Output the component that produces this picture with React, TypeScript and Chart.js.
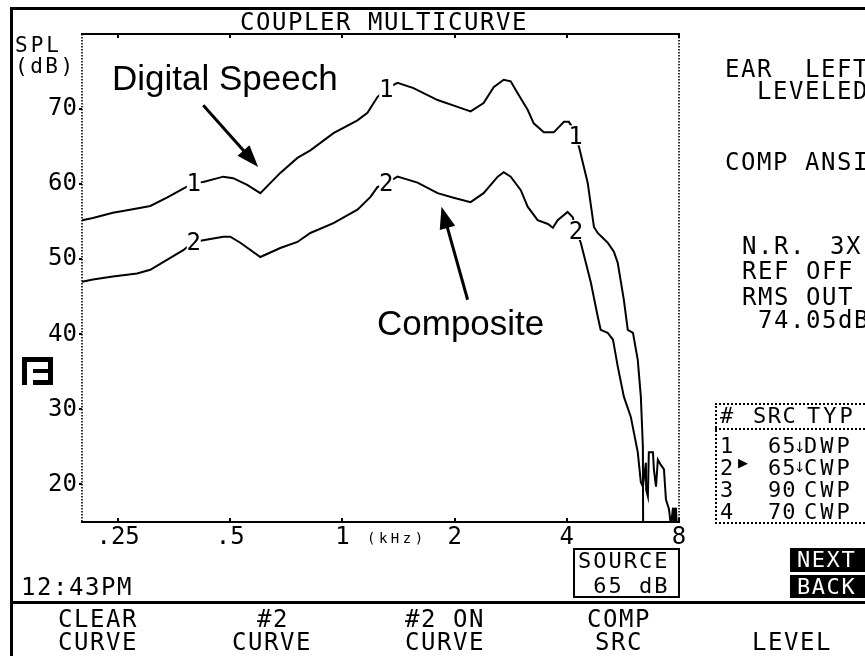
import React, { useEffect, useRef } from "react";
import { Chart, registerables } from "chart.js";

Chart.register(...registerables);

// ---- data (frequency in kHz, level in dB SPL) ----
const digitalFreq = [0.2, 0.214, 0.242, 0.269, 0.305, 0.338, 0.374, 0.4, 0.423, 0.479, 0.509, 0.555, 0.602, 0.681, 0.757, 0.82, 0.946, 1.097, 1.167, 1.241, 1.32, 1.405, 1.551, 1.8, 2.036, 2.207, 2.392, 2.545, 2.708, 2.828, 2.952, 3.14, 3.26, 3.47, 3.69, 3.93, 4.05, 4.15, 4.22, 4.31, 4.55, 4.73, 4.84, 5.15, 5.35, 5.48, 5.69, 5.83, 6.02, 6.2, 6.32, 6.4, 6.41];
const digitalDb = [55.2, 55.5, 56.2, 56.6, 57.1, 58.2, 59.4, 60.2, 60.3, 61.0, 60.8, 59.9, 58.8, 61.5, 63.5, 64.5, 66.8, 68.5, 69.5, 71.6, 72.8, 73.5, 72.8, 71.2, 70.3, 69.7, 70.8, 72.9, 73.9, 73.7, 72.1, 69.9, 68.1, 66.9, 66.9, 68.3, 68.3, 67.5, 66.5, 65.0, 60.2, 54.3, 53.5, 52.2, 51.0, 49.5, 44.6, 40.6, 40.2, 36.6, 31.7, 25.0, 14.0];

const compositeFreq = [0.2, 0.214, 0.242, 0.281, 0.305, 0.338, 0.374, 0.398, 0.442, 0.479, 0.5, 0.532, 0.602, 0.681, 0.757, 0.82, 0.946, 1.097, 1.189, 1.241, 1.32, 1.405, 1.59, 1.8, 1.987, 2.207, 2.392, 2.61, 2.708, 2.828, 3.01, 3.14, 3.34, 3.56, 3.67, 3.78, 4.02, 4.15, 4.23, 4.36, 4.64, 4.84, 4.93, 5.15, 5.32, 5.48, 5.69, 5.94, 6.2, 6.32, 6.4, 6.52, 6.53, 6.6, 6.64, 6.81, 6.85, 6.94, 7.02, 7.15, 7.29, 7.38, 7.52, 7.61, 7.71, 7.75, 7.85, 7.89];
const compositeDb = [47.0, 47.3, 47.7, 48.1, 48.6, 49.9, 51.2, 52.3, 52.7, 53.0, 53.0, 52.2, 50.3, 51.5, 52.3, 53.5, 54.8, 56.6, 58.3, 59.6, 60.2, 61.0, 60.2, 58.8, 58.2, 57.6, 58.8, 61.0, 61.6, 61.0, 59.2, 57.0, 55.2, 54.7, 54.2, 55.2, 56.3, 55.6, 53.9, 52.2, 46.9, 42.4, 40.6, 40.2, 39.3, 35.7, 31.7, 29.0, 24.3, 20.3, 19.7, 22.9, 19.3, 18.4, 24.3, 24.3, 22.0, 19.7, 23.3, 22.6, 22.0, 18.0, 16.7, 14.5, 16.9, 14.5, 16.9, 14.5];

// curve number markers
const digitalLabelFreq = [0.399, 1.31, 4.22];
const digitalLabelDb = [60.2, 72.8, 66.5];
const compositeLabelFreq = [0.399, 1.31, 4.23];
const compositeLabelDb = [52.4, 60.2, 53.9];

// annotation arrows (tail -> tip), in data units
const arrowTailFreq = [0.423, 2.167];
const arrowTailDb = [70.5, 44.6];
const arrowTipFreq = [0.594, 1.844];
const arrowTipDb = [62.3, 57.0];

// axes
const xTickValues = [0.25, 0.5, 1, 2, 4, 8];
const xTickLabels = [".25", ".5", "1", "2", "4", "8"];
const yTickValues = [20, 30, 40, 50, 60, 70];
const yTickLabels = ["20", "30", "40", "50", "60", "70"];

const LCD_FONT = '"DejaVu Sans Mono", monospace';

const framePlugin = {
  id: "frame",
  beforeDatasetsDraw(chart: any) {
    const { ctx, chartArea, scales } = chart;
    const { left, right, top, bottom } = chartArea;
    ctx.save();
    ctx.strokeStyle = "#000";
    ctx.lineWidth = 2;
    ctx.beginPath();
    ctx.moveTo(left - 1, top);
    ctx.lineTo(right + 1, top);
    ctx.moveTo(left - 1, bottom);
    ctx.lineTo(right + 1, bottom);
    ctx.stroke();
    ctx.beginPath();
    xTickValues.forEach((v) => {
      const px = Math.round(scales.x.getPixelForValue(v));
      ctx.moveTo(px, top);
      ctx.lineTo(px, top + 4);
      ctx.moveTo(px, bottom);
      ctx.lineTo(px, bottom - 4);
    });
    ctx.stroke();
    ctx.beginPath();
    yTickValues.forEach((v) => {
      const py = Math.round(scales.y.getPixelForValue(v));
      ctx.moveTo(left - 3, py);
      ctx.lineTo(left, py);
    });
    ctx.stroke();
    ctx.setLineDash([1.5, 1.5]);
    ctx.lineWidth = 1.6;
    ctx.beginPath();
    ctx.moveTo(left, top);
    ctx.lineTo(left, bottom);
    ctx.moveTo(right, top);
    ctx.lineTo(right, bottom);
    ctx.stroke();
    ctx.restore();
  },
};

const markerPlugin = {
  id: "markers",
  afterDatasetsDraw(chart: any) {
    const { ctx, scales } = chart;
    const { x, y } = scales;
    ctx.save();
    ctx.font = `24px ${LCD_FONT}`;
    ctx.textAlign = "center";
    ctx.textBaseline = "alphabetic";
    const draw = (fs: number[], ds: number[], txt: string) => {
      fs.forEach((f, i) => {
        const px = x.getPixelForValue(f);
        const py = y.getPixelForValue(ds[i]);
        ctx.fillStyle = "#fff";
        ctx.fillRect(px - 7, py - 10, 14, 20);
        ctx.fillStyle = "#000";
        ctx.fillText(txt, px, py + 8.7);
      });
    };
    draw(digitalLabelFreq, digitalLabelDb, "1");
    draw(compositeLabelFreq, compositeLabelDb, "2");

    ctx.strokeStyle = "#000";
    ctx.fillStyle = "#000";
    ctx.lineWidth = 3;
    arrowTipFreq.forEach((_, i) => {
      const x0 = x.getPixelForValue(arrowTailFreq[i]);
      const y0 = y.getPixelForValue(arrowTailDb[i]);
      const x1 = x.getPixelForValue(arrowTipFreq[i]);
      const y1 = y.getPixelForValue(arrowTipDb[i]);
      const len = Math.hypot(x1 - x0, y1 - y0);
      const ux = (x1 - x0) / len;
      const uy = (y1 - y0) / len;
      const hl = 22;
      const hw = 8;
      const bx = x1 - ux * hl;
      const by = y1 - uy * hl;
      ctx.beginPath();
      ctx.moveTo(x0, y0);
      ctx.lineTo(bx + ux * 2, by + uy * 2);
      ctx.stroke();
      ctx.beginPath();
      ctx.moveTo(x1, y1);
      ctx.lineTo(bx - uy * hw, by + ux * hw);
      ctx.lineTo(bx + uy * hw, by - ux * hw);
      ctx.closePath();
      ctx.fill();
    });
    ctx.restore();
  },
};

function LCD({ x, y, text, size = 24, ls = 1.55, color = "#000" }: any) {
  return (
    <div
      style={{
        position: "absolute",
        left: x,
        top: y - 0.117 * size,
        fontFamily: LCD_FONT,
        fontSize: size,
        lineHeight: `${size}px`,
        letterSpacing: ls,
        whiteSpace: "pre",
        color,
      }}
    >
      {text}
    </div>
  );
}

function Box({ x, y, w, h, style }: any) {
  return <div style={{ position: "absolute", left: x, top: y, width: w, height: h, boxSizing: "border-box", ...style }} />;
}

export default function App() {
  const canvasRef = useRef<HTMLCanvasElement | null>(null);

  useEffect(() => {
    const canvas = canvasRef.current;
    if (!canvas) return;
    const tickFont = { family: LCD_FONT, size: 24, lineHeight: 1 };
    const chart = new Chart(canvas, {
      type: "line",
      data: {
        datasets: [
          {
            label: "Digital Speech",
            data: digitalFreq.map((f, i) => ({ x: f, y: digitalDb[i] })),
            borderColor: "#000",
            borderWidth: 2,
            pointRadius: 0,
            tension: 0,
            fill: false,
          },
          {
            label: "Composite",
            data: compositeFreq.map((f, i) => ({ x: f, y: compositeDb[i] })),
            borderColor: "#000",
            borderWidth: 2,
            pointRadius: 0,
            tension: 0,
            fill: false,
          },
        ],
      },
      options: {
        animation: false,
        responsive: false,
        maintainAspectRatio: false,
        devicePixelRatio: 1,
        layout: { padding: { left: 0, top: 34, right: 186, bottom: 104 } },
        plugins: { legend: { display: false }, tooltip: { enabled: false }, title: { display: false } },
        scales: {
          x: {
            type: "logarithmic",
            min: 0.2,
            max: 8,
            afterBuildTicks: (s: any) => {
              s.ticks = xTickValues.map((v) => ({ value: v }));
            },
            afterFit: (s: any) => {
              s.height = 30;
            },
            ticks: {
              autoSkip: false,
              maxRotation: 0,
              padding: 4,
              color: "#000",
              font: tickFont,
              callback: (_v: any, i: number) => xTickLabels[i],
            },
            grid: { display: false, drawTicks: false },
            border: { display: false },
          },
          y: {
            type: "linear",
            min: 15,
            max: 80,
            afterBuildTicks: (s: any) => {
              s.ticks = yTickValues.map((v) => ({ value: v }));
            },
            afterFit: (s: any) => {
              s.width = 82;
            },
            ticks: {
              autoSkip: false,
              padding: 5,
              color: "#000",
              font: tickFont,
              callback: (_v: any, i: number) => yTickLabels[i],
            },
            grid: { display: false, drawTicks: false },
            border: { display: false },
          },
        },
      } as any,
      plugins: [framePlugin, markerPlugin],
    });
    return () => chart.destroy();
  }, []);

  return (
    <div style={{ position: "absolute", left: 0, top: 0, width: 865, height: 656, background: "#fff", overflow: "hidden" }}>
      {/* screen frame */}
      <Box x={10} y={7} w={3} h={660} style={{ background: "#000" }} />
      <Box x={10} y={7} w={870} h={3} style={{ background: "#000" }} />
      <Box x={13} y={601} w={870} h={3} style={{ background: "#000" }} />

      <canvas ref={canvasRef} width={865} height={656} style={{ position: "absolute", left: 0, top: 0, width: 865, height: 656 }} />

      <LCD x={240} y={13} text="COUPLER MULTICURVE" />
      <LCD x={15} y={37} text="SPL" size={21} ls={3} />
      <LCD x={15} y={58} text="(dB)" size={21} ls={2.5} />
      <LCD x={367} y={533} text="(kHz)" size={14} ls={3.5} />

      {/* icon */}
      <Box x={22} y={357} w={5} h={28} style={{ background: "#000" }} />
      <Box x={22} y={357} w={31} h={5} style={{ background: "#000" }} />
      <Box x={48} y={357} w={5} h={28} style={{ background: "#000" }} />
      <Box x={33} y={369} w={20} h={4} style={{ background: "#000" }} />
      <Box x={33} y={380} w={20} h={5} style={{ background: "#000" }} />

      {/* right panel */}
      <LCD x={725} y={60} text="EAR  LEFT" />
      <LCD x={725} y={82} text="  LEVELED" />
      <LCD x={725} y={153} text="COMP ANSI" />
      <LCD x={742} y={237} text="N.R." />
      <LCD x={830} y={237} text="3X" />
      <LCD x={742} y={262} text="REF OFF" />
      <LCD x={742} y={288} text="RMS OUT" />
      <LCD x={758} y={311} text="74.05dB" />

      {/* curve table */}
      <Box x={715} y={403} w={170} h={121} style={{ border: "2px dotted #000" }} />
      <Box x={715} y={428} w={170} h={2} style={{ borderTop: "2px dotted #000" }} />
      <LCD x={720} y={408} text="#" size={22} />
      <LCD x={753} y={408} text="SRC" size={22} ls={1.5} />
      <LCD x={807} y={408} text="TYP" size={22} ls={3} />
      <LCD x={720} y={438} text={"1\n2\n3\n4"} size={22} />
      <div style={{ position: "absolute", left: 738, top: 456, fontSize: 13, lineHeight: "13px", fontFamily: '"DejaVu Sans"' }}>▶</div>
      <LCD x={768} y={438} text={"65\n65\n90\n70"} size={22} ls={1} />
      <div style={{ position: "absolute", left: 794, top: 437, fontSize: 14, lineHeight: "20px", fontFamily: '"DejaVu Sans"', whiteSpace: "pre" }}>{"↓\n↓"}</div>
      <LCD x={804} y={438} text={"DWP\nCWP\nCWP\nCWP"} size={22} ls={3} />

      {/* source box */}
      <Box x={573} y={548} w={107} h={50} style={{ border: "2px solid #000" }} />
      <LCD x={578} y={553} text="SOURCE" size={22} ls={2} />
      <LCD x={578} y={578} text=" 65 dB" size={22} ls={2} />

      {/* NEXT / BACK */}
      <Box x={790} y={548} w={80} h={24} style={{ background: "#000" }} />
      <Box x={790} y={575} w={80} h={23} style={{ background: "#000" }} />
      <LCD x={797} y={552} text="NEXT" size={22} color="#fff" />
      <LCD x={797} y={579} text="BACK" size={22} color="#fff" />

      <LCD x={21} y={578} text="12:43PM" />

      {/* soft keys */}
      <LCD x={58} y={610} text="CLEAR" />
      <LCD x={58} y={633} text="CURVE" />
      <LCD x={257} y={610} text="#2" />
      <LCD x={232} y={633} text="CURVE" />
      <LCD x={405} y={610} text="#2 ON" />
      <LCD x={405} y={633} text="CURVE" />
      <LCD x={587} y={610} text="COMP" />
      <LCD x={595} y={633} text="SRC" />
      <LCD x={752} y={633} text="LEVEL" />

      {/* annotations */}
      <div style={{ position: "absolute", left: 112, top: 60, fontFamily: '"Liberation Sans", Arial, sans-serif', fontSize: 35, lineHeight: "35px", whiteSpace: "pre" }}>Digital Speech</div>
      <div style={{ position: "absolute", left: 377, top: 305, fontFamily: '"Liberation Sans", Arial, sans-serif', fontSize: 35, lineHeight: "35px", whiteSpace: "pre" }}>Composite</div>
    </div>
  );
}
